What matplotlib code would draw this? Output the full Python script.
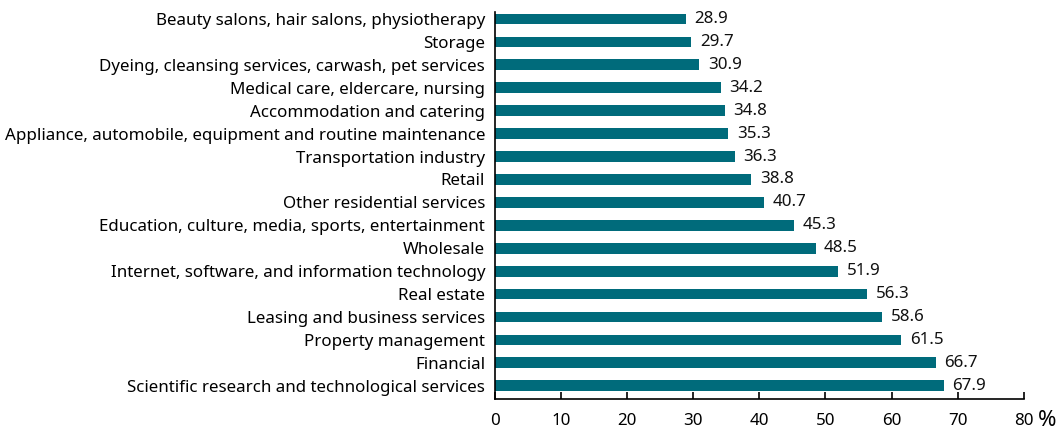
import matplotlib.pyplot as plt
import numpy as np

plt.rcParams['font.family'] = ['Noto Sans', 'DejaVu Sans']

categories = [
    "Scientific research and technological services",
    "Financial",
    "Property management",
    "Leasing and business services",
    "Real estate",
    "Internet, software, and information technology",
    "Wholesale",
    "Education, culture, media, sports, entertainment",
    "Other residential services",
    "Retail",
    "Transportation industry",
    "Appliance, automobile, equipment and routine maintenance",
    "Accommodation and catering",
    "Medical care, eldercare, nursing",
    "Dyeing, cleansing services, carwash, pet services",
    "Storage",
    "Beauty salons, hair salons, physiotherapy",
]
values = [67.9, 66.7, 61.5, 58.6, 56.3, 51.9, 48.5, 45.3, 40.7, 38.8,
          36.3, 35.3, 34.8, 34.2, 30.9, 29.7, 28.9]
xticks = [0, 10, 20, 30, 40, 50, 60, 70, 80]

color = "#006b7b"
fs = 12.2

fig = plt.figure(figsize=(10.62, 4.34), dpi=100)
ax = fig.add_axes([0.466, 0.081, 0.498, 0.891])

y = np.arange(len(categories))
ax.barh(y, values, height=0.47, color=color)
for yi, v in zip(y, values):
    ax.text(v + 1.3, yi, f"{v:.1f}", va="center", ha="left", fontsize=fs, color="#111111")

ax.set_yticks(y)
ax.set_yticklabels(categories, fontsize=fs)
ax.set_xticks(xticks)
ax.set_xticklabels([str(t) for t in xticks], fontsize=fs)
ax.set_xlim(0, 80)
ax.set_ylim(-0.57, 16.3)

for s in ["top", "right"]:
    ax.spines[s].set_visible(False)
ax.spines["left"].set_linewidth(1.2)
ax.spines["bottom"].set_linewidth(1.2)
ax.tick_params(axis="y", length=0, pad=7)
ax.tick_params(axis="x", direction="in", length=5, width=1.2, pad=10)

fig.text(0.986, 0.008, "%", fontsize=16, ha="center", va="bottom")

plt.savefig("out.png", dpi=100)
